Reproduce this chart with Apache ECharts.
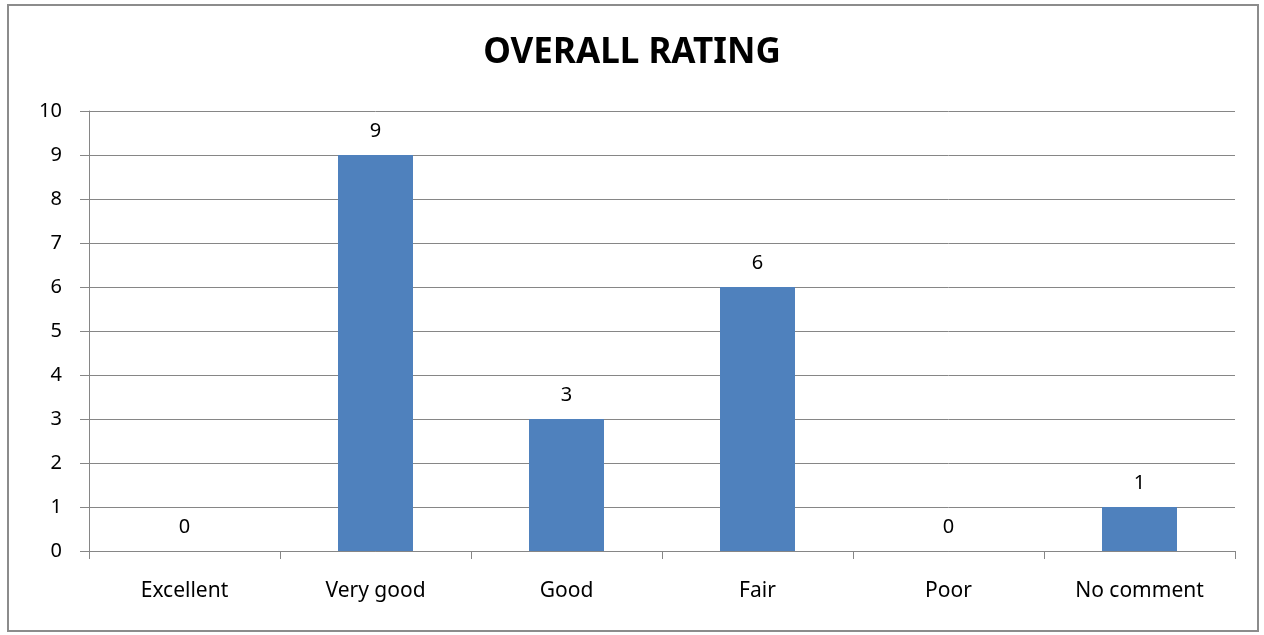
<!DOCTYPE html>
<html>
<head>
<meta charset="utf-8">
<script src="https://cdn.jsdelivr.net/npm/echarts@6/dist/echarts.min.js"></script>
<style>
  html, body { margin: 0; padding: 0; background: #fff; }
  #chart { width: 1264px; height: 635px; }
</style>
</head>
<body>
<div id="chart"></div>
<script>
var categories = ['Excellent', 'Very good', 'Good', 'Fair', 'Poor', 'No comment'];
var ratings = [0, 9, 3, 6, 0, 1];
var yTicks = { min: 0, max: 10, interval: 1 };

var myChart = echarts.init(document.getElementById('chart'));
var fontName = 'Noto Sans';

var option = {
  animation: false,
  backgroundColor: '#fff',
  title: {
    text: 'OVERALL RATING',
    left: 'center',
    top: 31,
    textStyle: { fontFamily: fontName, fontSize: 35, fontWeight: 'bold', color: '#000' }
  },
  graphic: [{
    type: 'rect',
    shape: { x: 8, y: 5, width: 1250, height: 626 },
    style: { fill: 'none', stroke: '#8c8c8c', lineWidth: 2 },
    silent: true
  }],
  grid: { left: 89, right: 29, top: 111, bottom: 84 },
  xAxis: {
    type: 'category',
    data: categories,
    axisLine: { lineStyle: { color: '#868686' } },
    axisTick: { show: true, length: 8, lineStyle: { color: '#868686' } },
    axisLabel: { margin: 30, color: '#000', fontFamily: fontName, fontSize: 21 }
  },
  yAxis: {
    type: 'value',
    min: yTicks.min,
    max: yTicks.max,
    interval: yTicks.interval,
    axisLine: { show: true, lineStyle: { color: '#868686' } },
    axisTick: { show: true, length: 9, lineStyle: { color: '#868686' } },
    axisLabel: { margin: 27, color: '#000', fontFamily: fontName, fontSize: 20 },
    splitLine: { lineStyle: { color: '#868686', width: 1 } }
  },
  series: [{
    type: 'bar',
    data: ratings,
    barWidth: 75,
    itemStyle: { color: '#4f81bd' },
    label: {
      show: true,
      position: 'top',
      distance: 14,
      color: '#000',
      fontFamily: fontName,
      fontSize: 20
    }
  }]
};

myChart.setOption(option);
window.addEventListener('resize', function() {
  myChart.resize();
});
</script>
</body>
</html>
